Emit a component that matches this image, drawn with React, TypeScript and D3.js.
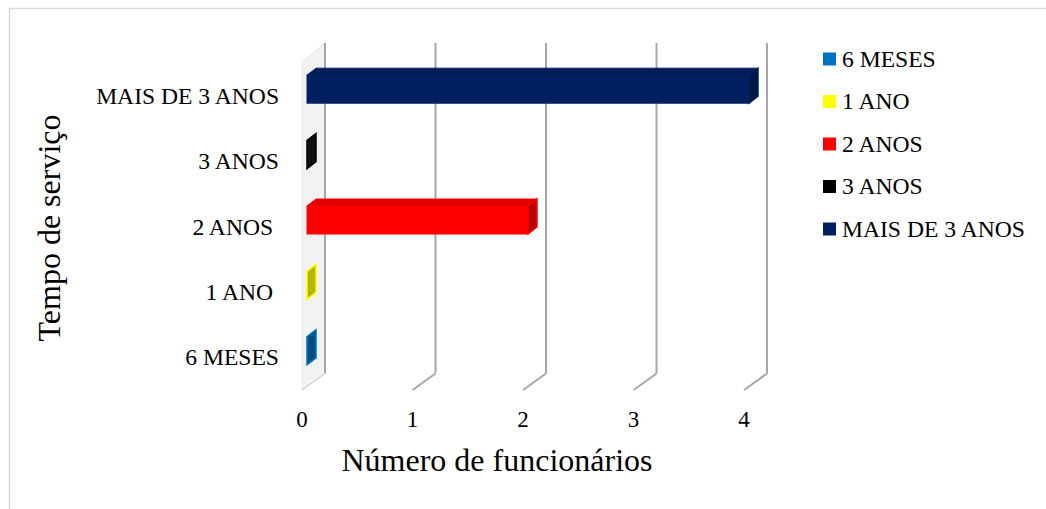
import React from 'react';
import * as d3 from 'd3';

// data
const categories = ['6 MESES', '1 ANO ', '2 ANOS ', '3 ANOS', 'MAIS DE 3 ANOS'];
const seriesNames = ['6 MESES', '1 ANO', '2 ANOS', '3 ANOS', 'MAIS DE 3 ANOS'];
const values = [0, 0, 2, 0, 4];
const colors = ['#0070C0', '#FFFF00', '#FF0000', '#000000', '#002060'];
const xTicks = [0, 1, 2, 3, 4];

const W = 1046;
const H = 509;
const FONT = '"Liberation Serif", "Times New Roman", serif';

const App: React.FC = () => {
  // front plane of the 3D box
  const x = d3.scaleLinear().domain([0, 4]).range([302, 744]);
  const y = d3.scaleBand<string>().domain(categories).range([390, 63]);
  const depth = { dx: 23, dy: -16.5 };
  const backTop = 43;
  const backBottom = 390 + depth.dy;

  // bar placement inside the depth
  const barOff = { dx: 5, dy: -6.5 };
  const barDepth = { dx: 9, dy: -7 };
  const barH = 28;

  const poly = (pts: [number, number][]) => pts.map(p => p.join(',')).join(' ');

  return (
    <div style={{ position: 'absolute', left: 0, top: 0 }}>
      <svg width={W} height={H} style={{ display: 'block', fontFamily: FONT }}>
        <rect x={0} y={0} width={W} height={H} fill="#fff" />
        {/* chart border (only top and left visible) */}
        <path d={`M9.5,${H} L9.5,8.5 L${W},8.5`} fill="none" stroke="#d9d9d9" strokeWidth={1.5} />

        {/* side wall */}
        <polygon
          points={poly([
            [x(0), 390],
            [x(0), 62],
            [x(0) + depth.dx, backTop],
            [x(0) + depth.dx, backBottom],
          ])}
          fill="#f2f2f2"
          stroke="#e6e6e6"
          strokeWidth={1}
        />

        {/* gridlines on back wall plus floor diagonals */}
        {xTicks.map(t => (
          <g key={t}>
            <line
              x1={x(t) + depth.dx}
              x2={x(t) + depth.dx}
              y1={backTop}
              y2={backBottom}
              stroke="#a6a6a6"
              strokeWidth={2}
            />
            <line
              x1={x(t) + depth.dx}
              y1={backBottom}
              x2={x(t)}
              y2={390}
              stroke={t === 0 ? '#d0d0d0' : '#a6a6a6'}
              strokeWidth={t === 0 ? 1.5 : 2}
            />
            <text x={x(t)} y={427} textAnchor="middle" fontSize={23} fill="#000">
              {t}
            </text>
          </g>
        ))}

        {/* bars */}
        {categories.map((c, i) => {
          const cy = (y(c) as number) + y.bandwidth() / 2 + barOff.dy;
          const xl = x(0) + barOff.dx;
          const xr = x(values[i]) + barOff.dx;
          const top = cy - barH / 2;
          const bot = cy + barH / 2;
          const base = d3.color(colors[i]) as d3.RGBColor;
          const topCol = colors[i] === '#000000' ? '#222' : base.darker(0.35).formatHex();
          const sideCol = colors[i] === '#000000' ? '#111' : base.darker(1).formatHex();
          return (
            <g key={c}>
              {xr > xl && (
                <rect x={xl} y={top} width={xr - xl} height={barH} fill={colors[i]} stroke={colors[i]} strokeWidth={1} />
              )}
              <polygon
                points={poly([
                  [xl, top],
                  [xr, top],
                  [xr + barDepth.dx, top + barDepth.dy],
                  [xl + barDepth.dx, top + barDepth.dy],
                ])}
                fill={topCol}
                stroke={colors[i]}
                strokeWidth={1}
              />
              <polygon
                points={poly([
                  [xr, top],
                  [xr + barDepth.dx, top + barDepth.dy],
                  [xr + barDepth.dx, bot + barDepth.dy],
                  [xr, bot],
                ])}
                fill={sideCol}
                stroke={colors[i]}
                strokeWidth={1.5}
              />
            </g>
          );
        })}

        {/* category labels */}
        {categories.map(c => (
          <text
            key={c}
            x={279}
            y={(y(c) as number) + y.bandwidth() / 2 + 8}
            textAnchor="end"
            fontSize={23.6}
            fill="#000"
            style={{ whiteSpace: 'pre' }}
          >
            {c}
          </text>
        ))}

        {/* axis titles */}
        <text x={497} y={471} textAnchor="middle" fontSize={32} fill="#000">
          Número de funcionários
        </text>
        <text transform="translate(60,228) rotate(-90)" textAnchor="middle" fontSize={32} fill="#000">
          Tempo de serviço
        </text>

        {/* legend */}
        {seriesNames.map((s, i) => {
          const cy = 59 + i * 42.5;
          return (
            <g key={s}>
              <rect x={823} y={cy - 6.5} width={13} height={13} fill={colors[i]} />
              <text x={842} y={cy + 7.5} fontSize={23.6} fill="#000">
                {s}
              </text>
            </g>
          );
        })}
      </svg>
    </div>
  );
};

export default App;
